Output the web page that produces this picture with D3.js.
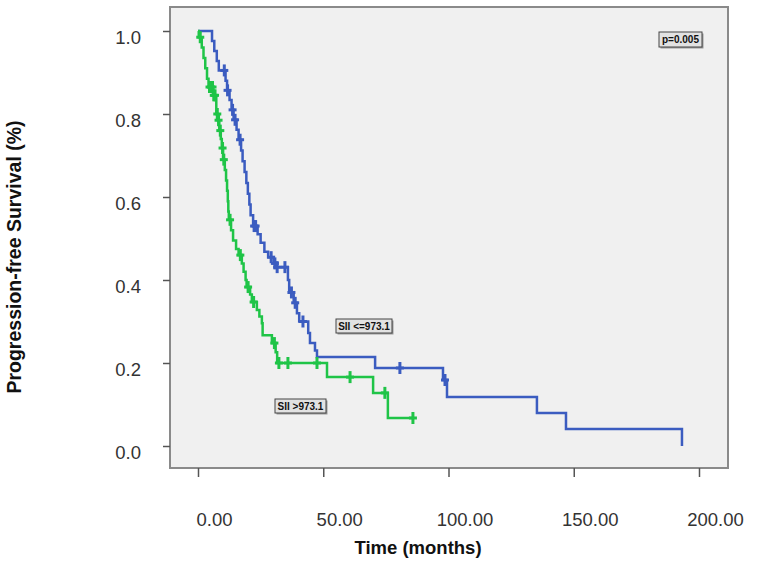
<!DOCTYPE html>
<html>
<head>
<meta charset="utf-8">
<script src="https://cdn.jsdelivr.net/npm/d3@7"></script>
<style>
  body { margin: 0; background: #fff; }
  svg text { font-family: "Liberation Sans", Arial, sans-serif; }
</style>
</head>
<body>
<div id="chart"></div>
<script>
// SII <= 973.1 (blue): event times and survival after each step
const lowTimes = [0, 5.6, 6.5, 7.5, 8.3, 11.0, 11.6, 12.6, 13.4, 14.2, 15.4, 16.2, 17.2, 17.8, 18.6, 19.3, 19.9, 20.5, 21.0, 22.0,
                  23.8, 25.0, 26.5, 28.0, 30.2, 31.2, 35.9, 36.4, 38.2, 39.5, 40.4, 44.0, 44.7, 46.7, 47.5, 70.7, 97.8, 99.4, 135.3, 146.9, 193.2];
const lowSurv = [1.0, 0.976, 0.952, 0.928, 0.905, 0.88, 0.857, 0.834, 0.81, 0.786, 0.762, 0.738, 0.712, 0.686, 0.66, 0.634, 0.608, 0.582, 0.556, 0.53,
                 0.51, 0.49, 0.468, 0.455, 0.44, 0.431, 0.40, 0.37, 0.345, 0.32, 0.30, 0.272, 0.248, 0.23, 0.2145, 0.188, 0.159, 0.118, 0.0795, 0.041, 0.0];
const lowCensor = [10.5, 11.8, 13.8, 14.8, 16.8, 22.4, 23.0, 29.2, 30.7, 31.6, 34.7, 37.3, 38.8, 41.9, 80.6, 98.6];

// SII > 973.1 (green)
const highTimes = [0, 0.3, 1.5, 2.2, 2.9, 3.6, 4.2, 6.0, 7.3, 7.9, 8.5, 9.1, 9.5, 10.0, 10.7, 11.2, 11.6, 11.9, 12.1, 12.3,
                   13.2, 14.0, 15.2, 16.2, 17.5, 18.2, 19.0, 19.4, 20.8, 21.5, 23.5, 24.5, 25.5, 25.8, 29.5, 31.0, 31.6, 51.5, 69.9, 75.8];
const highSurv = [1.0, 0.985, 0.96, 0.935, 0.91, 0.885, 0.865, 0.845, 0.80, 0.785, 0.76, 0.74, 0.718, 0.69, 0.665, 0.64, 0.615, 0.59, 0.565, 0.545,
                  0.52, 0.495, 0.475, 0.46, 0.44, 0.42, 0.40, 0.383, 0.365, 0.347, 0.328, 0.312, 0.296, 0.267, 0.248, 0.226, 0.2, 0.166, 0.128, 0.0675];
const highCensor = [0.9, 4.6, 5.2, 5.8, 6.3, 6.8, 7.7, 8.2, 8.9, 9.8, 10.3, 12.8, 16.9, 20.0, 22.2, 30.5, 32.3, 35.9, 47.5, 60.7, 74.6, 85.8];
const highEnd = 85.8;

const xTicks = [0, 50, 100, 150, 200];
const yTicks = [0, 0.2, 0.4, 0.6, 0.8, 1.0];

const width = 758, height = 561;
const svg = d3.select("#chart").append("svg").attr("width", width).attr("height", height);

const x = d3.scaleLinear().domain([0, 200]).range([198, 699]);
const y = d3.scaleLinear().domain([0, 1]).range([446, 31]);

// plot frame
svg.append("rect")
    .attr("x", 170).attr("y", 7)
    .attr("width", 558).attr("height", 461)
    .attr("fill", "#f0f0f0")
    .attr("stroke", "#8a8a8a")
    .attr("stroke-width", 2);

// axes
const yAxis = svg.append("g").attr("transform", "translate(170,0)")
    .call(d3.axisLeft(y).tickValues(yTicks).tickFormat(d3.format(".1f")).tickSize(7).tickPadding(22));
yAxis.select(".domain").remove();
yAxis.selectAll("line").attr("stroke", "#555").attr("stroke-width", 1.5);
yAxis.selectAll("text").attr("font-size", "18.5px").attr("fill", "#333").attr("dy", "0.65em");

const xAxis = svg.append("g").attr("transform", "translate(0,468)")
    .call(d3.axisBottom(x).tickValues(xTicks).tickFormat(d3.format(".2f")).tickSize(9).tickPadding(36));
xAxis.select(".domain").remove();
xAxis.selectAll("line").attr("stroke", "#555").attr("stroke-width", 1.5);
xAxis.selectAll("text").attr("font-size", "18.5px").attr("fill", "#333").attr("dx", 16);

svg.append("text")
    .attr("x", 418).attr("y", 554)
    .attr("text-anchor", "middle")
    .attr("font-size", "18.5px").attr("font-weight", "bold").attr("fill", "#111")
    .text("Time (months)");

svg.append("text")
    .attr("transform", "translate(21,257) rotate(-90)")
    .attr("text-anchor", "middle")
    .attr("font-size", "19.5px").attr("font-weight", "bold").attr("fill", "#111")
    .text("Progression-free Survival (%)");

// step curves
function stepValue(times, surv, t) {
    let s = surv[0];
    for (let i = 0; i < times.length; i++) if (times[i] <= t) s = surv[i];
    return s;
}

const line = d3.line().x(d => x(d[0])).y(d => y(d[1])).curve(d3.curveStepAfter);

function drawCurve(times, surv, censor, endTime, color) {
    const pts = times.map((t, i) => [t, surv[i]]);
    if (endTime != null) pts.push([endTime, surv[surv.length - 1]]);
    svg.append("path")
        .datum(pts)
        .attr("fill", "none")
        .attr("stroke", color)
        .attr("stroke-width", 2.5)
        .attr("d", line);

    const marks = svg.append("g").attr("stroke", color).attr("stroke-width", 3);
    censor.forEach(t => {
        const cx = x(t), cy = y(stepValue(times, surv, t));
        marks.append("line").attr("x1", cx).attr("x2", cx).attr("y1", cy - 6).attr("y2", cy + 6);
        marks.append("line").attr("x1", cx - 4).attr("x2", cx + 4).attr("y1", cy).attr("y2", cy);
    });
}

drawCurve(lowTimes, lowSurv, lowCensor, null, "#3b5cc0");
drawCurve(highTimes, highSurv, highCensor, highEnd, "#1fc447");

// annotation boxes
function labelBox(bx, by, w, h, txt) {
    svg.append("rect").attr("x", bx + 1.5).attr("y", by + 1.5).attr("width", w).attr("height", h).attr("fill", "#9a9a9a");
    svg.append("rect").attr("x", bx).attr("y", by).attr("width", w).attr("height", h)
        .attr("fill", "#e2e2e2").attr("stroke", "#444").attr("stroke-width", 1);
    svg.append("text").attr("x", bx + w / 2).attr("y", by + h / 2 + 3.5)
        .attr("text-anchor", "middle")
        .attr("font-family", "'Liberation Sans Narrow', 'DejaVu Sans Condensed', sans-serif")
        .attr("font-size", "10px").attr("font-weight", "bold").attr("fill", "#111")
        .text(txt);
}

labelBox(336, 319, 56, 14, "SII <=973.1");
labelBox(275, 399, 51, 14, "SII >973.1");
labelBox(659, 32, 43, 15, "p=0.005");
</script>
</body>
</html>
